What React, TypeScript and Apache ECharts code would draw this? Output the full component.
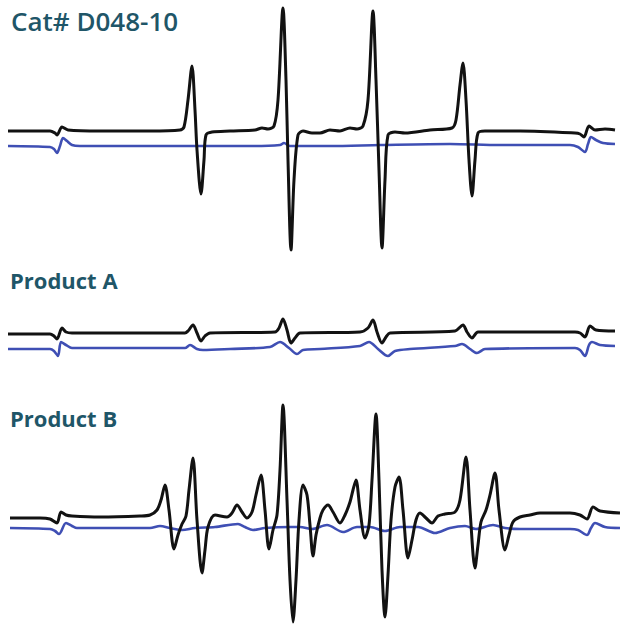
import React, { useEffect, useRef } from "react";
import * as echarts from "echarts";

// Field position (x) and signal amplitude (y) pairs
const titles = ["Cat# D048-10", "Product A", "Product B"];

const refBlack: [number, number][] = [
  [8, -1], [50, -1], [55, -3], [57, -5], [62, 3], [68, 0], [100, -1], [150, -1], [180, 0], [184, 3],
  [188, 30], [192, 64], [195, 20], [197, -20], [201, -64], [204, -30], [206, -5], [212, -2], [230, -1],
  [255, 0], [262, 2], [268, 1], [274, 4], [278, 30], [283, 122], [286, 50], [288, -30], [291, -120],
  [294, -50], [298, -5], [303, -1], [312, -3], [320, -3], [330, 0], [340, -1], [350, 2], [357, 1],
  [363, 4], [368, 30], [373, 119], [376, 50], [379, -40], [382, -118], [385, -50], [388, -5], [395, -2],
  [405, -3], [430, 0], [452, 2], [456, 10], [460, 45], [463, 67], [466, 30], [469, -30], [472, -66],
  [475, -30], [478, -3], [485, -1], [520, -1], [575, -3], [580, -4], [584, -7], [589, 4], [595, 0],
  [605, 1], [615, 0],
];
const refBlue: [number, number][] = [
  [8, -16], [50, -17], [54, -19], [57, -23], [60, -16], [63, -8], [67, -11], [72, -15], [80, -16],
  [150, -16], [200, -16], [250, -16], [280, -15], [284, -13], [290, -16], [330, -16], [380, -15],
  [450, -14], [500, -15], [570, -15], [578, -17], [585, -22], [588, -14], [591, -7], [596, -10],
  [603, -13], [615, -14],
];

const aBlack: [number, number][] = [
  [8, 1], [50, 1], [54, -1], [57, -4], [62, 7], [66, 3], [72, 2], [185, 2], [188, 4], [193, 10],
  [197, 2], [201, -6], [205, -1], [210, 2], [275, 3], [279, 7], [283, 16], [287, 5], [291, -8],
  [295, -3], [300, 2], [360, 3], [368, 7], [373, 15], [377, 3], [382, -8], [386, -2], [390, 2],
  [455, 4], [463, 10], [467, 3], [472, -3], [478, 3], [575, 3], [580, 2], [585, -2], [590, 9],
  [596, 5], [615, 4],
];
const aBlue: [number, number][] = [
  [8, -14], [50, -14], [54, -16], [58, -21], [61, -7], [66, -10], [72, -13], [185, -13], [190, -10],
  [197, -14], [203, -15], [230, -14], [270, -12], [280, -7], [289, -13], [297, -19], [303, -15],
  [320, -14], [360, -11], [369, -7], [378, -14], [388, -21], [395, -16], [410, -14], [455, -11],
  [462, -9], [470, -14], [477, -18], [485, -14], [575, -13], [580, -15], [585, -21], [589, -10],
  [592, -7], [600, -10], [615, -11],
];

const bBlack: [number, number][] = [
  [10, -10], [40, -10], [50, -11], [57, -15], [61, -4], [66, -7], [72, -8], [100, -9], [140, -8],
  [150, -7], [157, -2], [161, 8], [165, 23], [169, -2], [174, -41], [178, -27], [182, -16], [186, -8],
  [189, 18], [193, 50], [197, -12], [202, -65], [205, -42], [208, -19], [215, -7], [227, -9],
  [232, -5], [237, 3], [242, -4], [247, -10], [252, -4], [256, 13], [261, 33], [265, -2], [269, -41],
  [273, -22], [277, -7], [280, 38], [283, 103], [287, 8], [290, -72], [293, -114], [296, -72],
  [299, -12], [303, 23], [307, 13], [310, -17], [313, -48], [316, -27], [320, -10], [323, -2],
  [328, 3], [333, -4], [340, -15], [345, -7], [350, 6], [353, 18], [356, 28], [360, -2], [365, -30],
  [369, -17], [372, 28], [376, 94], [379, 28], [382, -62], [385, -109], [388, -67], [391, -12],
  [395, 21], [399, 31], [403, -2], [408, -50], [412, -32], [416, -12], [420, -5], [426, -10],
  [432, -15], [438, -8], [445, -6], [455, -4], [460, 8], [466, 51], [470, -2], [475, -60], [478, -37],
  [481, -14], [486, -2], [490, 13], [495, 35], [499, -2], [505, -42], [509, -27], [513, -14],
  [520, -9], [530, -7], [540, -5], [570, -5], [580, -7], [587, -11], [593, 1], [600, -3], [620, -5],
];
const bBlue: [number, number][] = [
  [10, -20], [50, -21], [55, -23], [59, -26], [66, -15], [72, -18], [77, -20], [150, -20], [160, -18],
  [170, -20], [182, -22], [195, -20], [215, -19], [238, -16], [245, -19], [253, -22], [265, -20],
  [290, -19], [300, -19], [312, -21], [327, -17], [343, -24], [357, -19], [370, -19], [385, -23],
  [400, -19], [418, -19], [435, -25], [450, -20], [465, -18], [476, -21], [493, -17], [505, -20],
  [520, -21], [570, -21], [578, -22], [587, -27], [591, -20], [595, -15], [605, -19], [620, -20],
];

const BLACK = "#121212";
const BLUE = "#3f4fb4";
const TEAL = "#1f5668";

export default function App() {
  const ref = useRef<HTMLDivElement>(null);
  useEffect(() => {
    document.body.style.margin = "0";
    const chart = echarts.init(ref.current!, null, { renderer: "svg" });
    const panels = [
      { top: 0, height: 260, half: 130, black: refBlack, blue: refBlue },
      { top: 300, height: 70, half: 35, black: aBlack, blue: aBlue },
      { top: 390, height: 236, half: 118, black: bBlack, blue: bBlue },
    ];
    const series: any[] = [];
    panels.forEach((p, i) => {
      series.push({
        type: "line", xAxisIndex: i, yAxisIndex: i, data: p.blue, showSymbol: false, smooth: 0.3,
        lineStyle: { color: BLUE, width: 2.6 }, z: 2,
      });
      series.push({
        type: "line", xAxisIndex: i, yAxisIndex: i, data: p.black, showSymbol: false, smooth: 0.3,
        lineStyle: { color: BLACK, width: 3 }, z: 3,
      });
    });
    chart.setOption({
      animation: false,
      backgroundColor: "#ffffff",
      title: [
        { text: titles[0], left: 6, top: 3, textStyle: { fontFamily: "Open Sans", fontSize: 26, fontWeight: 600, color: TEAL } },
        { text: titles[1], left: 5, top: 264, textStyle: { fontFamily: "Open Sans", fontSize: 22, fontWeight: 700, color: TEAL } },
        { text: titles[2], left: 5, top: 402, textStyle: { fontFamily: "Open Sans", fontSize: 22, fontWeight: 700, color: TEAL } },
      ],
      grid: panels.map((p) => ({ left: 0, right: 0, top: p.top, height: p.height })),
      xAxis: panels.map((_, i) => ({ type: "value", gridIndex: i, min: 0, max: 629, show: false })),
      yAxis: panels.map((p, i) => ({ type: "value", gridIndex: i, min: -p.half, max: p.half, show: false })),
      series,
    });
    return () => chart.dispose();
  }, []);
  return <div ref={ref} style={{ position: "fixed", left: 0, top: 0, width: 629, height: 626 }} />;
}
